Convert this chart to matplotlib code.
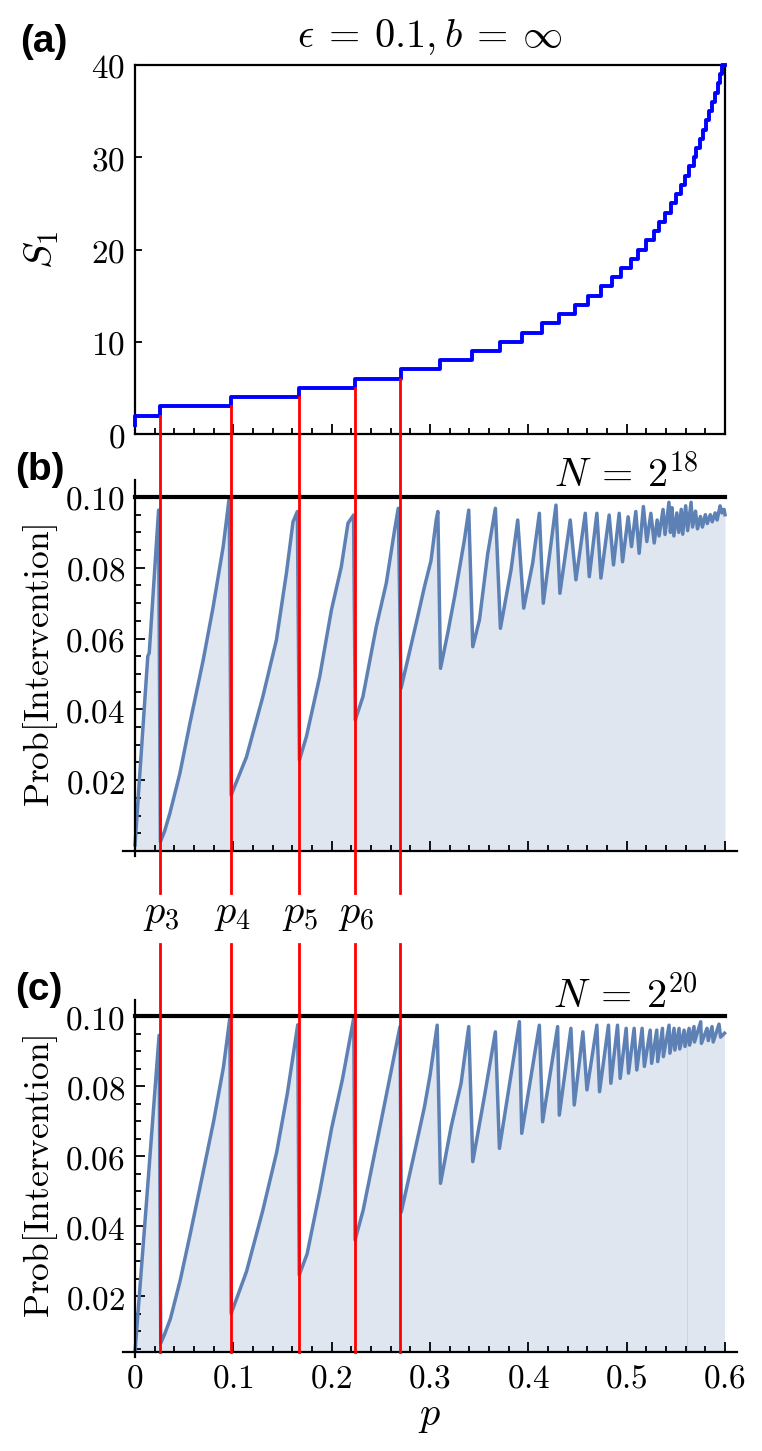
import numpy as np
import matplotlib
matplotlib.use("Agg")
import matplotlib.pyplot as plt
from matplotlib.lines import Line2D
from matplotlib.ticker import MultipleLocator, FixedLocator, FuncFormatter

plt.rcParams['mathtext.fontset'] = 'cm'
plt.rcParams['font.family'] = 'DejaVu Sans'

# ---------------- datos ----------------
# posiciones de los saltos de S1 (S1 = k para p >= p_jump[k-3])
p_jump = [0.0254, 0.0975, 0.1665, 0.2234, 0.270, 0.310, 0.343, 0.371, 0.394,
          0.414, 0.431, 0.447, 0.461, 0.4735, 0.485, 0.4945, 0.504, 0.512,
          0.520, 0.528, 0.533, 0.539, 0.545, 0.550, 0.555, 0.559, 0.563,
          0.568, 0.571, 0.575, 0.578, 0.581, 0.584, 0.587, 0.590, 0.593,
          0.595, 0.597]
s1_start = 2
s1_levels = list(range(3, 41))

# N = 2^18
p_b = [0.0, 0.013, 0.0145, 0.024, 0.0258, 0.030, 0.0355, 0.0457, 0.0558,
       0.0694, 0.0795, 0.0897, 0.0958, 0.0978, 0.1134, 0.130, 0.1438, 0.154,
       0.1607, 0.1651, 0.1672, 0.1743, 0.1878, 0.1997, 0.2098, 0.2166, 0.2223,
       0.2240, 0.2318, 0.2454, 0.2555, 0.264, 0.2677, 0.2706, 0.286, 0.2944,
       0.301, 0.3063, 0.308, 0.3107, 0.318, 0.325, 0.335, 0.3394, 0.3435,
       0.3503, 0.3587, 0.3665, 0.3716, 0.3824, 0.3892, 0.3953, 0.4044, 0.4112,
       0.4152, 0.4281, 0.4321, 0.4426, 0.4484, 0.4579, 0.462, 0.4697, 0.4738,
       0.4822, 0.4866, 0.4924, 0.4958, 0.5015, 0.5049, 0.5093, 0.5127, 0.517,
       0.5205, 0.5246, 0.528, 0.531, 0.533, 0.537, 0.539, 0.543, 0.5445,
       0.546, 0.548, 0.551, 0.553, 0.5555, 0.557, 0.560, 0.562, 0.5655, 0.567,
       0.570, 0.572, 0.575, 0.577, 0.580, 0.582, 0.585, 0.587, 0.590, 0.592,
       0.595, 0.597, 0.599, 0.600]
v_b = [0.0017, 0.055, 0.056, 0.0963, 0.0026, 0.0055, 0.0107, 0.022, 0.036,
       0.054, 0.069, 0.086, 0.0997, 0.0158, 0.0266, 0.0436, 0.0596, 0.0785,
       0.093, 0.0959, 0.0257, 0.0323, 0.0492, 0.068, 0.0803, 0.0926, 0.0949,
       0.037, 0.0436, 0.0634, 0.0756, 0.0907, 0.0968, 0.046, 0.0644, 0.0747,
       0.082, 0.0935, 0.0959, 0.0516, 0.0615, 0.0718, 0.0879, 0.0963, 0.0577,
       0.0653, 0.084, 0.0968, 0.0629, 0.0794, 0.0935, 0.0686, 0.0813, 0.0954,
       0.070, 0.0977, 0.0728, 0.0935, 0.0766, 0.0954, 0.0775, 0.0954, 0.0771,
       0.0949, 0.0808, 0.0954, 0.0817, 0.0944, 0.086, 0.0959, 0.0841, 0.0973,
       0.0874, 0.0954, 0.087, 0.0935, 0.089, 0.0965, 0.0894, 0.0985, 0.0900,
       0.097, 0.0890, 0.0955, 0.0900, 0.0965, 0.0895, 0.0975, 0.0905, 0.0985,
       0.0915, 0.0960, 0.0910, 0.0945, 0.0915, 0.0950, 0.0925, 0.0950, 0.0930,
       0.0955, 0.0935, 0.0975, 0.0955, 0.0965, 0.0950]

# N = 2^20
p_c = [0.0, 0.012, 0.0245, 0.0262, 0.030, 0.036, 0.046, 0.056, 0.069, 0.080,
       0.090, 0.0965, 0.0978, 0.1134, 0.130, 0.144, 0.155, 0.1655, 0.167,
       0.175, 0.188, 0.200, 0.211, 0.2225, 0.2238, 0.232, 0.246, 0.256, 0.2695,
       0.2708, 0.285, 0.2944, 0.300, 0.3073, 0.3107, 0.3215, 0.3316, 0.3394,
       0.3435, 0.3553, 0.3665, 0.3706, 0.3909, 0.3933, 0.4112, 0.4145, 0.4298,
       0.4315, 0.4433, 0.4467, 0.4555, 0.4596, 0.4697, 0.4724, 0.4815, 0.4839,
       0.4907, 0.4934, 0.4995, 0.5019, 0.5076, 0.5103, 0.5157, 0.518, 0.5239,
       0.5254, 0.5306, 0.5316, 0.5364, 0.5373, 0.5431, 0.544, 0.5482, 0.549,
       0.5533, 0.554, 0.5584, 0.5593, 0.5635, 0.564, 0.5685, 0.569, 0.5753,
       0.576, 0.5817, 0.583, 0.5868, 0.588, 0.5939, 0.5955, 0.5995]
v_c = [0.0040, 0.048, 0.0945, 0.0065, 0.009, 0.0135, 0.0245, 0.0375, 0.055,
       0.070, 0.0855, 0.0995, 0.015, 0.027, 0.0445, 0.061, 0.078, 0.0975,
       0.026, 0.032, 0.050, 0.068, 0.082, 0.0995, 0.036, 0.0445, 0.064, 0.078,
       0.097, 0.044, 0.062, 0.0741, 0.083, 0.0974, 0.0522, 0.0684, 0.0808,
       0.0970, 0.0584, 0.0770, 0.0955, 0.0622, 0.0984, 0.0665, 0.0974, 0.0698,
       0.097, 0.0717, 0.0965, 0.0746, 0.0955, 0.0789, 0.0974, 0.0784, 0.0974,
       0.0808, 0.0974, 0.0822, 0.0965, 0.0837, 0.0965, 0.0846, 0.0965, 0.0856,
       0.0960, 0.0865, 0.0960, 0.087, 0.0965, 0.0884, 0.0974, 0.0894, 0.0965,
       0.0903, 0.0965, 0.0906, 0.096, 0.0913, 0.0965, 0.0917, 0.097, 0.0926,
       0.0984, 0.0922, 0.0965, 0.093, 0.097, 0.0926, 0.0977, 0.0940, 0.0951]

seam_c = 0.561
y_ticks = [0.02, 0.04, 0.06, 0.08, 0.10]
x_ticks = [0, 0.1, 0.2, 0.3, 0.4, 0.5, 0.6]

azul = '#5E81B5'
relleno = '#DFE6F0'

W, H = 762, 1451
fig = plt.figure(figsize=(W / 100, H / 100), dpi=100)


def caja(x0, y0, x1, y1):
    # coordenadas en pixeles (desde arriba) -> fraccion de figura
    return [x0 / W, 1 - y1 / H, (x1 - x0) / W, (y1 - y0) / H]


ax_a = fig.add_axes(caja(135, 65, 725, 434))
ax_b = fig.add_axes(caja(123, 480, 737, 851))
ax_c = fig.add_axes(caja(123, 1000, 737, 1352))

fmt_tick = FuncFormatter(lambda v, pos: r'$%g$' % v)
fmt_y = FuncFormatter(lambda v, pos: r'$%.2f$' % v)

# ---------------- (a) ----------------
xs = [0.0, 0.0] + p_jump + [0.6]
ys = [1, s1_start] + s1_levels + [40]
ax_a.step(xs, ys, where='post', color='#0000FF', lw=2.8, clip_on=False, zorder=3)
ax_a.set_xlim(0, 0.6)
ax_a.set_ylim(0, 40)
ax_a.xaxis.set_major_locator(MultipleLocator(0.1))
ax_a.xaxis.set_minor_locator(MultipleLocator(0.02))
ax_a.yaxis.set_major_locator(MultipleLocator(10))
ax_a.set_xticklabels([])
ax_a.yaxis.set_major_formatter(fmt_tick)
ax_a.tick_params(axis='both', which='both', direction='in', width=1.3)
ax_a.tick_params(axis='x', which='major', length=7)
ax_a.tick_params(axis='x', which='minor', length=4)
ax_a.tick_params(axis='y', which='major', length=5, labelsize=24, pad=7)
for s in ax_a.spines.values():
    s.set_linewidth(1.6)
ax_a.set_ylabel(r'$S_1$', fontsize=29, labelpad=22)

# ---------------- (b) y (c) ----------------
for ax, p, v, ylo, ytop in [(ax_b, p_b, v_b, 0.0, 0.1048),
                            (ax_c, p_c, v_c, 0.004, 0.1046)]:
    ax.fill_between(p, 0, v, color=relleno, lw=0, zorder=1)
    ax.plot(p, v, color=azul, lw=2.5, zorder=2)
    ax.plot([0, 0.6], [0.1, 0.1], color='black', lw=3.0, zorder=3)
    ax.set_xlim(-0.0122, 0.6122)
    ax.set_ylim(ylo, ytop)
    ax.spines['top'].set_visible(False)
    ax.spines['right'].set_visible(False)
    ax.spines['left'].set_position(('data', 0))
    ax.spines['left'].set_bounds(ylo - 0.0015, ytop)
    for s in ('left', 'bottom'):
        ax.spines[s].set_linewidth(1.6)
    ax.xaxis.set_major_locator(FixedLocator(x_ticks))
    ax.xaxis.set_minor_locator(FixedLocator(np.arange(0, 0.601, 0.02)))
    ax.yaxis.set_major_locator(FixedLocator(y_ticks))
    ax.yaxis.set_minor_locator(FixedLocator(np.arange(0.005, 0.1001, 0.005)))
    ax.yaxis.set_major_formatter(fmt_y)
    ax.tick_params(axis='both', which='both', direction='in', width=1.3)
    ax.tick_params(axis='both', which='major', length=7, labelsize=24, pad=7)
    ax.tick_params(axis='both', which='minor', length=4)
    ax.set_ylabel(r'$\mathrm{Prob}[\mathrm{Intervention}]$', fontsize=25.5, labelpad=4)

ax_b.set_xticklabels([])
ax_c.xaxis.set_major_formatter(fmt_tick)
ax_c.set_xlabel(r'$p$', fontsize=29, labelpad=0)

# linea tenue que aparece en el relleno de (c)
ax_c.plot([seam_c, seam_c], [0.004, np.interp(seam_c, p_c, v_c)],
          color='#C9D4E8', lw=0.8, zorder=1)

ax_b.text(0.5725, 0.1028, r'$N\:=\:2^{18}$', fontsize=29, ha='right', va='baseline')
ax_c.text(0.5725, 0.1023, r'$N\:=\:2^{20}$', fontsize=29, ha='right', va='baseline')

# ---------------- lineas rojas ----------------
fig.canvas.draw()
inv = fig.transFigure.inverted()
y_corte_sup = 1 - 893 / H
y_corte_inf = 1 - 944 / H
y_fondo = ax_c.get_position().y0
for k, pj in enumerate(p_jump[:5]):
    xf, ytop_f = inv.transform(ax_a.transData.transform((pj, s1_start + k)))
    fig.add_artist(Line2D([xf, xf], [ytop_f, y_corte_sup], color='#FF0000', lw=2.0))
    fig.add_artist(Line2D([xf, xf], [y_corte_inf, y_fondo], color='#FF0000', lw=2.0))
    if k < 4:
        fig.text(xf + 0.002, 1 - 923 / H, r'$p_{%d}$' % (k + 3), fontsize=29,
                 ha='center', va='baseline')

# ---------------- textos ----------------
fig.text(430 / W, 1 - 37 / H, r'$\epsilon\:=\:0.1, b\:=\:\infty$', fontsize=29,
         ha='center', va='center')
for lab, ypx in [('(a)', 42), ('(b)', 470), ('(c)', 990)]:
    fig.text(20 / W if lab == '(a)' else 15 / W, 1 - ypx / H, lab,
             family='Liberation Sans', weight='bold', fontsize=28,
             ha='left', va='center')

fig.savefig('out.png', dpi=100)
